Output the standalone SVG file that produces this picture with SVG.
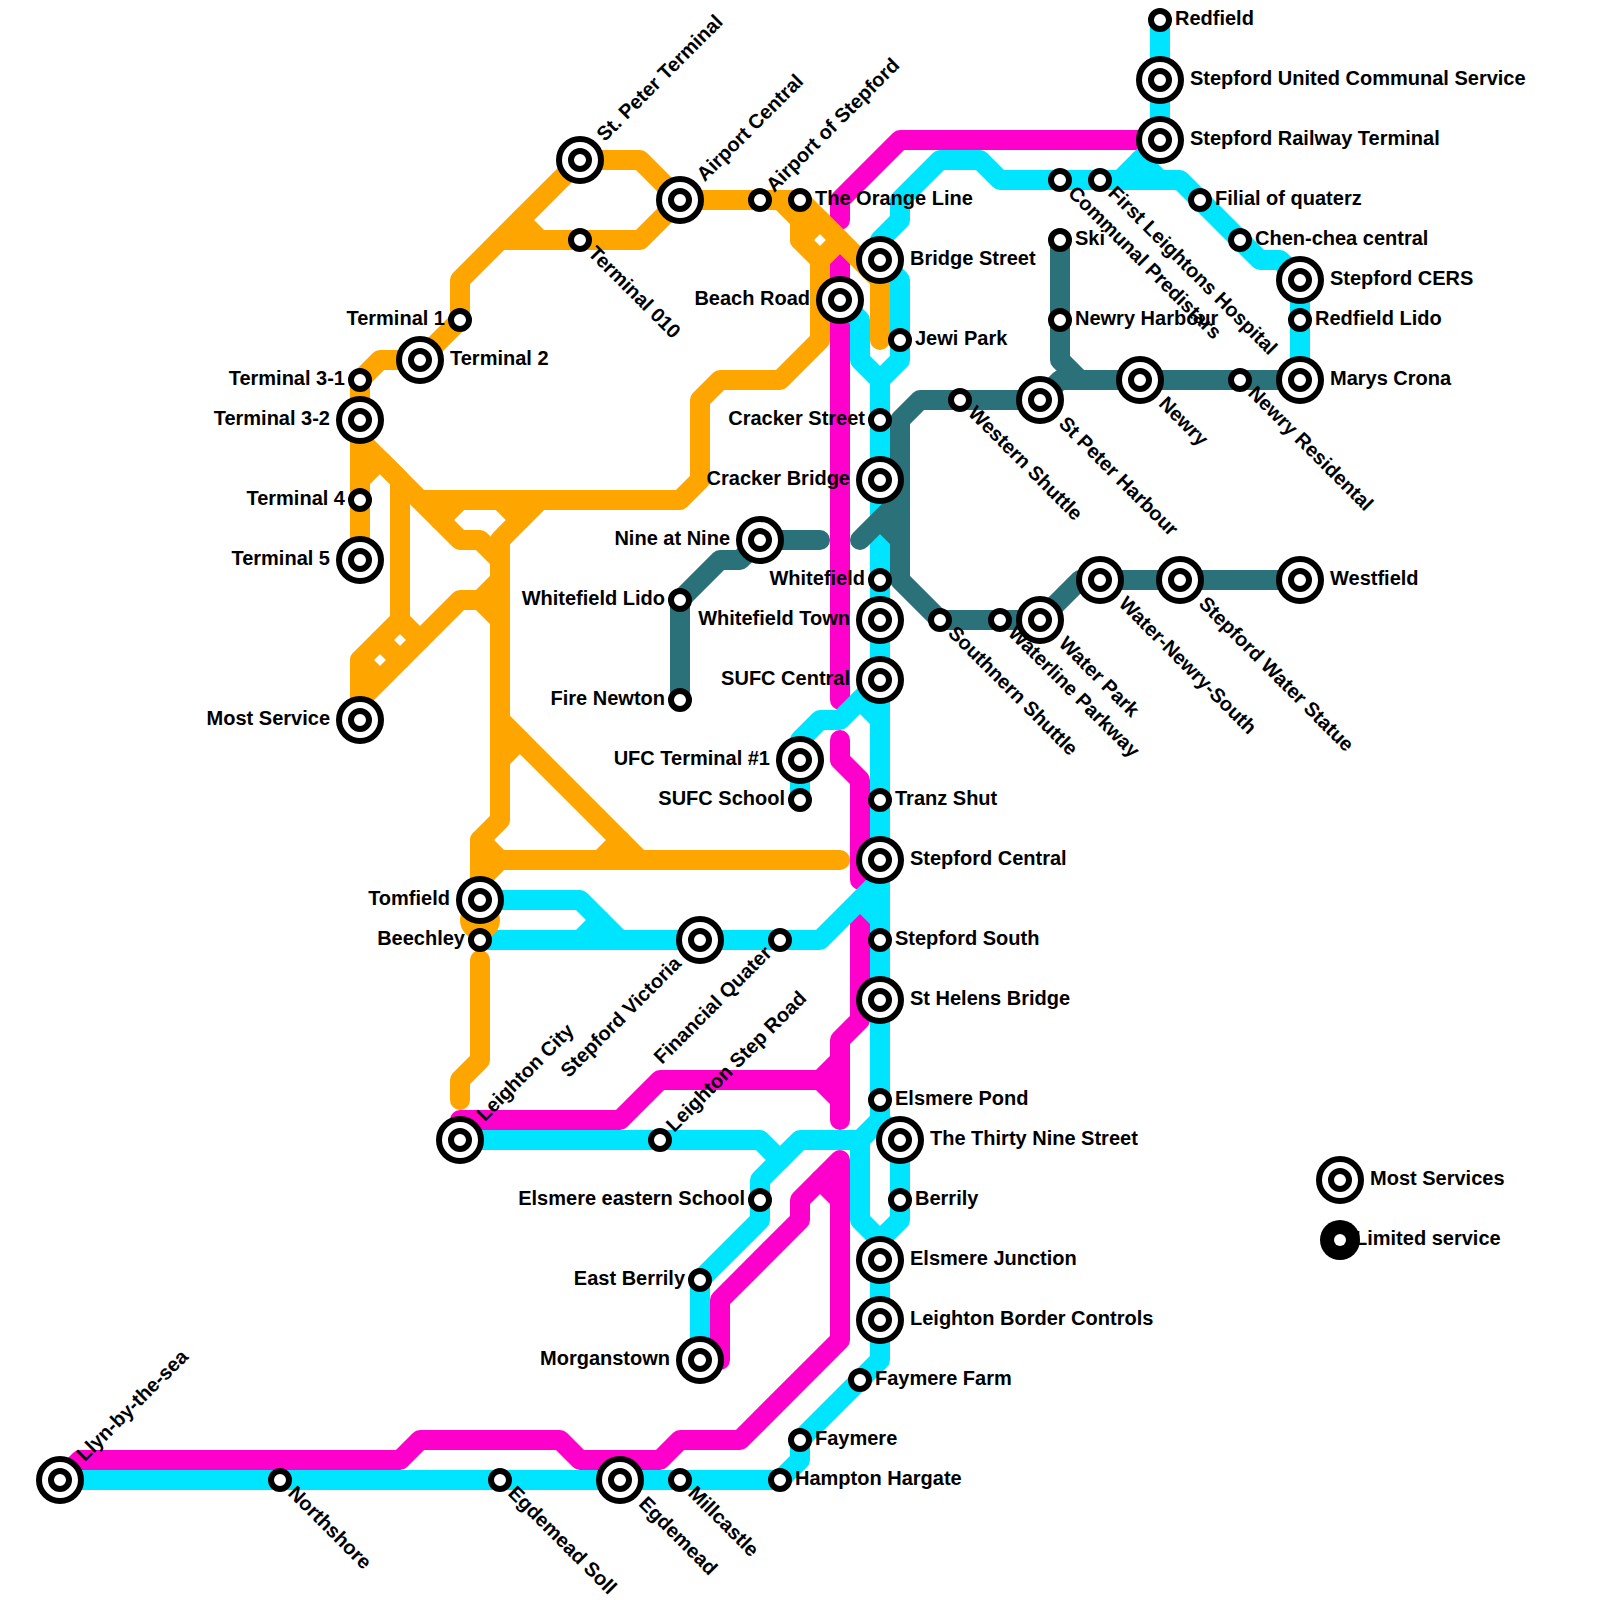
<svg xmlns="http://www.w3.org/2000/svg" width="1600" height="1600" viewBox="0 0 1600 1600">
<style>
.l{fill:none;stroke-width:20;stroke-linecap:round;stroke-linejoin:round}
.m{stroke:#ff00cc}.c{stroke:#00e5ff}.o{stroke:#ffa500}.t{stroke:#2b717a}
text{font-family:"Liberation Sans",Arial,sans-serif;font-weight:700;font-size:20px;fill:#000}
.e{text-anchor:end}
</style>
<defs>
<g id="maj"><circle r="21" fill="#fff" stroke="#000" stroke-width="6"/><circle r="9" fill="#fff" stroke="#000" stroke-width="6"/></g>
<circle id="min" r="9" fill="#fff" stroke="#000" stroke-width="6"/>
</defs>
<rect width="1600" height="1600" fill="#fff"/>
<g id="connectors">
<g id="line-magenta" class="l m">
<path d="M1160 140H900L840 200V220"/>
<path d="M840 260V700"/>
<path d="M840 740V760L860 780V880"/>
<path d="M860 920V1020L840 1040V1120"/>
<path d="M840 1060L820 1080L840 1100"/>
<path d="M820 1080H660L620 1120H460V1140"/>
<path d="M720 1360V1300L800 1220V1200L840 1160V1340L740 1440H680L660 1460H580L560 1440H420L400 1460H80L60 1480"/>
<path d="M820 1180L840 1200"/>
</g>
<g id="line-cyan" class="l c">
<path d="M1160 20V140L1120 180H1000L980 160H940L900 200V220L880 240V260L900 280V360L880 380V1100L880 1120L860 1140H800L760 1180V1220L700 1280V1360"/>
<path d="M1140 160L1160 180"/>
<path d="M1120 180H1180L1260 260H1280L1300 280V380"/>
<path d="M840 300L860 320V360L880 380"/>
<path d="M880 680L840 720H820L800 740V800"/>
<path d="M860 700L880 720"/>
<path d="M480 900H580L620 940"/>
<path d="M580 940L600 920"/>
<path d="M480 940H820L880 880"/>
<path d="M860 900L880 920"/>
<path d="M460 1140H760L780 1160"/>
<path d="M880 1120L900 1140V1220L880 1240"/>
<path d="M860 1140V1220L880 1240V1360L800 1440V1460L780 1480H60"/>
</g>
<g id="line-orange" class="l o">
<circle cx="480" cy="920" r="20" stroke="none" fill="#ffa500"/>
<path d="M360 380L380 360H420L460 320V280L580 160H640L680 200H800L880 280V340"/>
<path d="M520 220L540 240"/>
<path d="M500 240H640L680 200"/>
<path d="M780 200L800 220V240L820 260V340L780 380H720L700 400V480L680 500H420"/>
<path d="M800 240L820 220"/>
<path d="M820 260L840 240"/>
<path d="M360 380V560"/>
<path d="M360 440L460 540H480L500 560"/>
<path d="M360 480L380 460L400 480V620L360 660V720"/>
<path d="M440 520L460 500"/>
<path d="M500 500L520 520"/>
<path d="M540 500L500 540V820L480 840V900"/>
<path d="M400 620L420 640"/>
<path d="M380 640L400 660"/>
<path d="M360 660L380 680"/>
<path d="M360 700L460 600H480L500 620"/>
<path d="M480 600L500 580"/>
<path d="M500 720L640 860"/>
<path d="M500 760L520 740"/>
<path d="M600 860L620 840"/>
<path d="M480 840L500 860H840"/>
<path d="M480 880L500 860"/>
<path d="M480 960V1060L460 1080V1100"/>
</g>
<g id="line-teal" class="l t">
<path d="M820 540H760L740 560H720L680 600V700"/>
<path d="M860 540L900 500"/>
<path d="M880 520L900 540"/>
<path d="M1060 240V360L1080 380H1300"/>
<path d="M1040 400L1060 380H1080"/>
<path d="M1040 400H920L900 420V580L940 620H1040L1080 580H1300"/>
</g>
</g>
<g id="stations">
<g id="st-redfield"><use href="#min" x="1160" y="20"/><text x="1175" y="25">Redfield</text></g>
<g id="st-stepford-united"><use href="#maj" x="1160" y="80"/><text x="1190" y="85">Stepford United Communal Service</text></g>
<g id="st-stepford-railway"><use href="#maj" x="1160" y="140"/><text x="1190" y="145">Stepford Railway Terminal</text></g>
<g id="st-filial"><use href="#min" x="1200" y="200"/><text x="1215" y="205">Filial of quaterz</text></g>
<g id="st-chen-chea"><use href="#min" x="1240" y="240"/><text x="1255" y="245">Chen-chea central</text></g>
<g id="st-stepford-cers"><use href="#maj" x="1300" y="280"/><text x="1330" y="285">Stepford CERS</text></g>
<g id="st-redfield-lido"><use href="#min" x="1300" y="320"/><text x="1315" y="325">Redfield Lido</text></g>
<g id="st-marys-crona"><use href="#maj" x="1300" y="380"/><text x="1330" y="385">Marys Crona</text></g>
<g id="st-communal"><use href="#min" x="1060" y="180"/><text transform="translate(1060 180) rotate(45)" x="15" y="5">Communal Predistars</text></g>
<g id="st-first-leightons"><use href="#min" x="1100" y="180"/><text transform="translate(1100 180) rotate(45)" x="15" y="5">First Leightons Hospital</text></g>
<g id="st-ski"><use href="#min" x="1060" y="240"/><text x="1075" y="245">Ski</text></g>
<g id="st-newry-harbour"><use href="#min" x="1060" y="320"/><text x="1075" y="325">Newry Harbour</text></g>
<g id="st-newry"><use href="#maj" x="1140" y="380"/><text transform="translate(1140 380) rotate(45)" x="30" y="5">Newry</text></g>
<g id="st-newry-residental"><use href="#min" x="1240" y="380"/><text transform="translate(1240 380) rotate(45)" x="15" y="5">Newry Residental</text></g>
<g id="st-st-peter-harbour"><use href="#maj" x="1040" y="400"/><text transform="translate(1040 400) rotate(45)" x="30" y="5">St Peter Harbour</text></g>
<g id="st-western-shuttle"><use href="#min" x="960" y="400"/><text transform="translate(960 400) rotate(45)" x="15" y="5">Western Shuttle</text></g>
<g id="st-southnern-shuttle"><use href="#min" x="940" y="620"/><text transform="translate(940 620) rotate(45)" x="15" y="5">Southnern Shuttle</text></g>
<g id="st-waterline"><use href="#min" x="1000" y="620"/><text transform="translate(1000 620) rotate(45)" x="15" y="5">Waterline Parkway</text></g>
<g id="st-water-park"><use href="#maj" x="1040" y="620"/><text transform="translate(1040 620) rotate(45)" x="30" y="5">Water Park</text></g>
<g id="st-water-newry"><use href="#maj" x="1100" y="580"/><text transform="translate(1100 580) rotate(45)" x="30" y="5">Water-Newry-South</text></g>
<g id="st-water-statue"><use href="#maj" x="1180" y="580"/><text transform="translate(1180 580) rotate(45)" x="30" y="5">Stepford Water Statue</text></g>
<g id="st-westfield"><use href="#maj" x="1300" y="580"/><text x="1330" y="585">Westfield</text></g>
<g id="st-st-peter-terminal"><use href="#maj" x="580" y="160"/><text transform="translate(580 160) rotate(-45)" x="30" y="5">St. Peter Terminal</text></g>
<g id="st-airport-central"><use href="#maj" x="680" y="200"/><text transform="translate(680 200) rotate(-45)" x="30" y="5">Airport Central</text></g>
<g id="st-airport-stepford"><use href="#min" x="760" y="200"/><text transform="translate(760 200) rotate(-45)" x="15" y="5">Airport of Stepford</text></g>
<g id="st-orange-line"><use href="#min" x="800" y="200"/><text x="815" y="205">The Orange Line</text></g>
<g id="st-terminal-010"><use href="#min" x="580" y="240"/><text transform="translate(580 240) rotate(45)" x="15" y="5">Terminal 010</text></g>
<g id="st-terminal-1"><use href="#min" x="460" y="320"/><text class="e" x="445" y="325">Terminal 1</text></g>
<g id="st-terminal-2"><use href="#maj" x="420" y="360"/><text x="450" y="365">Terminal 2</text></g>
<g id="st-terminal-3-1"><use href="#min" x="360" y="380"/><text class="e" x="345" y="385">Terminal 3-1</text></g>
<g id="st-terminal-3-2"><use href="#maj" x="360" y="420"/><text class="e" x="330" y="425">Terminal 3-2</text></g>
<g id="st-terminal-4"><use href="#min" x="360" y="500"/><text class="e" x="345" y="505">Terminal 4</text></g>
<g id="st-terminal-5"><use href="#maj" x="360" y="560"/><text class="e" x="330" y="565">Terminal 5</text></g>
<g id="st-most-service"><use href="#maj" x="360" y="720"/><text class="e" x="330" y="725">Most Service</text></g>
<g id="st-beach-road"><use href="#maj" x="840" y="300"/><text class="e" x="810" y="305">Beach Road</text></g>
<g id="st-bridge-street"><use href="#maj" x="880" y="260"/><text x="910" y="265">Bridge Street</text></g>
<g id="st-jewi-park"><use href="#min" x="900" y="340"/><text x="915" y="345">Jewi Park</text></g>
<g id="st-cracker-street"><use href="#min" x="880" y="420"/><text class="e" x="865" y="425">Cracker Street</text></g>
<g id="st-cracker-bridge"><use href="#maj" x="880" y="480"/><text class="e" x="850" y="485">Cracker Bridge</text></g>
<g id="st-nine-at-nine"><use href="#maj" x="760" y="540"/><text class="e" x="730" y="545">Nine at Nine</text></g>
<g id="st-whitefield-lido"><use href="#min" x="680" y="600"/><text class="e" x="665" y="605">Whitefield Lido</text></g>
<g id="st-fire-newton"><use href="#min" x="680" y="700"/><text class="e" x="665" y="705">Fire Newton</text></g>
<g id="st-whitefield"><use href="#min" x="880" y="580"/><text class="e" x="865" y="585">Whitefield</text></g>
<g id="st-whitefield-town"><use href="#maj" x="880" y="620"/><text class="e" x="850" y="625">Whitefield Town</text></g>
<g id="st-sufc-central"><use href="#maj" x="880" y="680"/><text class="e" x="850" y="685">SUFC Central</text></g>
<g id="st-ufc-terminal"><use href="#maj" x="800" y="760"/><text class="e" x="770" y="765">UFC Terminal #1</text></g>
<g id="st-sufc-school"><use href="#min" x="800" y="800"/><text class="e" x="785" y="805">SUFC School</text></g>
<g id="st-tranz-shut"><use href="#min" x="880" y="800"/><text x="895" y="805">Tranz Shut</text></g>
<g id="st-stepford-central"><use href="#maj" x="880" y="860"/><text x="910" y="865">Stepford Central</text></g>
<g id="st-stepford-south"><use href="#min" x="880" y="940"/><text x="895" y="945">Stepford South</text></g>
<g id="st-st-helens"><use href="#maj" x="880" y="1000"/><text x="910" y="1005">St Helens Bridge</text></g>
<g id="st-elsmere-pond"><use href="#min" x="880" y="1100"/><text x="895" y="1105">Elsmere Pond</text></g>
<g id="st-thirty-nine"><use href="#maj" x="900" y="1140"/><text x="930" y="1145">The Thirty Nine Street</text></g>
<g id="st-berrily"><use href="#min" x="900" y="1200"/><text x="915" y="1205">Berrily</text></g>
<g id="st-elsmere-junction"><use href="#maj" x="880" y="1260"/><text x="910" y="1265">Elsmere Junction</text></g>
<g id="st-leighton-border"><use href="#maj" x="880" y="1320"/><text x="910" y="1325">Leighton Border Controls</text></g>
<g id="st-faymere-farm"><use href="#min" x="860" y="1380"/><text x="875" y="1385">Faymere Farm</text></g>
<g id="st-faymere"><use href="#min" x="800" y="1440"/><text x="815" y="1445">Faymere</text></g>
<g id="st-hampton"><use href="#min" x="780" y="1480"/><text x="795" y="1485">Hampton Hargate</text></g>
<g id="st-millcastle"><use href="#min" x="680" y="1480"/><text transform="translate(680 1480) rotate(45)" x="15" y="5">Millcastle</text></g>
<g id="st-egdemead"><use href="#maj" x="620" y="1480"/><text transform="translate(620 1480) rotate(45)" x="30" y="5">Egdemead</text></g>
<g id="st-egdemead-soll"><use href="#min" x="500" y="1480"/><text transform="translate(500 1480) rotate(45)" x="15" y="5">Egdemead Soll</text></g>
<g id="st-northshore"><use href="#min" x="280" y="1480"/><text transform="translate(280 1480) rotate(45)" x="15" y="5">Northshore</text></g>
<g id="st-llyn"><use href="#maj" x="60" y="1480"/><text transform="translate(60 1480) rotate(-45)" x="30" y="5">Llyn-by-the-sea</text></g>
<g id="st-morganstown"><use href="#maj" x="700" y="1360"/><text class="e" x="670" y="1365">Morganstown</text></g>
<g id="st-east-berrily"><use href="#min" x="700" y="1280"/><text class="e" x="685" y="1285">East Berrily</text></g>
<g id="st-elsmere-eastern"><use href="#min" x="760" y="1200"/><text class="e" x="745" y="1205">Elsmere eastern School</text></g>
<g id="st-leighton-city"><use href="#maj" x="460" y="1140"/><text transform="translate(460 1140) rotate(-45)" x="30" y="5">Leighton City</text></g>
<g id="st-leighton-step"><use href="#min" x="660" y="1140"/><text transform="translate(660 1140) rotate(-45)" x="15" y="5">Leighton Step Road</text></g>
<g id="st-tomfield"><use href="#maj" x="480" y="900"/><text class="e" x="450" y="905">Tomfield</text></g>
<g id="st-beechley"><use href="#min" x="480" y="940"/><text class="e" x="465" y="945">Beechley</text></g>
<g id="st-stepford-victoria"><use href="#maj" x="700" y="940"/><text class="e" transform="translate(700 940) rotate(-45)" x="-30" y="5">Stepford Victoria</text></g>
<g id="st-financial"><use href="#min" x="780" y="940"/><text class="e" transform="translate(780 940) rotate(-45)" x="-15" y="5">Financial Quater</text></g>
</g>
<g id="legend">
<g id="legend-most"><use href="#maj" x="1340" y="1180"/><text x="1370" y="1185">Most Services</text></g>
<g id="legend-limited"><circle cx="1340" cy="1240" r="20" fill="#000"/><circle cx="1340" cy="1240" r="6" fill="#fff"/><text x="1355" y="1245">Limited service</text></g>
</g>
</svg>
